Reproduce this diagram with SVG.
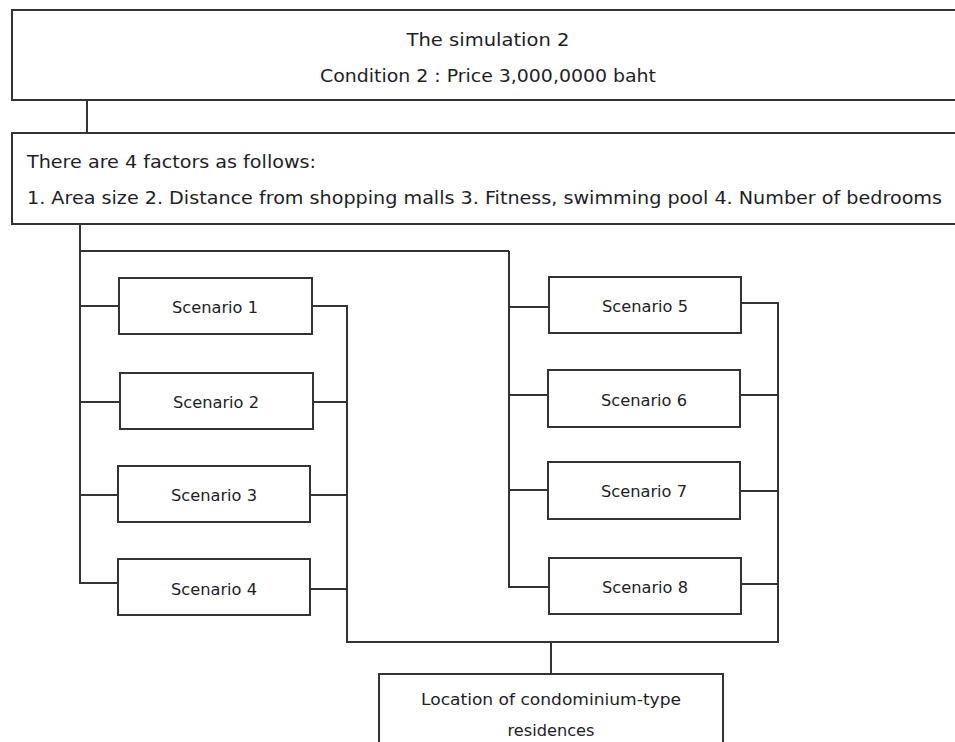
<svg xmlns="http://www.w3.org/2000/svg" width="955" height="742" viewBox="0 0 955 742">
  <style>
    .box { fill: #ffffff; stroke: #333333; stroke-width: 2; }
    .wire { fill: none; stroke: #333333; stroke-width: 2; }
    .t { font-family: "DejaVu Sans", "Open Sans", sans-serif; fill: #1e1e28; }
    .hd { font-size: 17px; text-anchor: middle; }
    .fc { font-size: 17px; }
    .sc { font-size: 15px; text-anchor: middle; }
  </style>
  <rect width="955" height="742" fill="#ffffff"/>

  <!-- connectors -->
  <g id="connectors" class="wire">
    <line x1="87" y1="100" x2="87" y2="133"/>
    <!-- left branch -->
    <polyline points="80,224 80,583 118,583"/>
    <line x1="80" y1="251" x2="509" y2="251"/>
    <line x1="80" y1="306" x2="119" y2="306"/>
    <line x1="80" y1="402" x2="120" y2="402"/>
    <line x1="80" y1="495" x2="118" y2="495"/>
    <!-- right branch -->
    <polyline points="509,251 509,587 549,587"/>
    <line x1="509" y1="307" x2="549" y2="307"/>
    <line x1="509" y1="395" x2="548" y2="395"/>
    <line x1="509" y1="490" x2="548" y2="490"/>
    <!-- collectors -->
    <polyline points="312,306 347,306 347,642 778,642 778,303 741,303"/>
    <line x1="313" y1="402" x2="347" y2="402"/>
    <line x1="310" y1="495" x2="347" y2="495"/>
    <line x1="310" y1="589" x2="347" y2="589"/>
    <line x1="740" y1="395" x2="778" y2="395"/>
    <line x1="740" y1="491" x2="778" y2="491"/>
    <line x1="741" y1="584" x2="778" y2="584"/>
    <line x1="551" y1="642" x2="551" y2="674"/>
  </g>

  <g id="simulation">
    <rect class="box" x="12" y="10" width="960" height="90"/>
    <text class="t hd" x="488" y="46" textLength="163" lengthAdjust="spacingAndGlyphs">The simulation 2</text>
    <text class="t hd" x="488" y="82" textLength="336" lengthAdjust="spacingAndGlyphs">Condition 2 : Price 3,000,0000 baht</text>
  </g>

  <g id="factors">
    <rect class="box" x="12" y="133" width="960" height="91"/>
    <text class="t fc" x="27" y="168" textLength="289" lengthAdjust="spacingAndGlyphs">There are 4 factors as follows:</text>
    <text class="t fc" x="27" y="204" textLength="915" lengthAdjust="spacingAndGlyphs">1. Area size 2. Distance from shopping malls 3. Fitness, swimming pool 4. Number of bedrooms</text>
  </g>

  <g id="scenario1">
    <rect class="box" x="119" y="278" width="193" height="56"/>
    <text class="t sc" x="215" y="313" textLength="86" lengthAdjust="spacingAndGlyphs">Scenario 1</text>
  </g>
  <g id="scenario2">
    <rect class="box" x="120" y="373" width="193" height="56"/>
    <text class="t sc" x="216" y="408" textLength="86" lengthAdjust="spacingAndGlyphs">Scenario 2</text>
  </g>
  <g id="scenario3">
    <rect class="box" x="118" y="466" width="192" height="56"/>
    <text class="t sc" x="214" y="501" textLength="86" lengthAdjust="spacingAndGlyphs">Scenario 3</text>
  </g>
  <g id="scenario4">
    <rect class="box" x="118" y="559" width="192" height="56"/>
    <text class="t sc" x="214" y="595" textLength="86" lengthAdjust="spacingAndGlyphs">Scenario 4</text>
  </g>

  <g id="scenario5">
    <rect class="box" x="549" y="277" width="192" height="56"/>
    <text class="t sc" x="645" y="312" textLength="86" lengthAdjust="spacingAndGlyphs">Scenario 5</text>
  </g>
  <g id="scenario6">
    <rect class="box" x="548" y="370" width="192" height="57"/>
    <text class="t sc" x="644" y="406" textLength="86" lengthAdjust="spacingAndGlyphs">Scenario 6</text>
  </g>
  <g id="scenario7">
    <rect class="box" x="548" y="462" width="192" height="57"/>
    <text class="t sc" x="644" y="497" textLength="86" lengthAdjust="spacingAndGlyphs">Scenario 7</text>
  </g>
  <g id="scenario8">
    <rect class="box" x="549" y="558" width="192" height="56"/>
    <text class="t sc" x="645" y="593" textLength="86" lengthAdjust="spacingAndGlyphs">Scenario 8</text>
  </g>

  <g id="location">
    <rect class="box" x="379" y="674" width="344" height="80"/>
    <text class="t sc" x="551" y="705" textLength="260" lengthAdjust="spacingAndGlyphs">Location of condominium-type</text>
    <text class="t sc" x="551" y="736" textLength="87" lengthAdjust="spacingAndGlyphs">residences</text>
  </g>
</svg>
